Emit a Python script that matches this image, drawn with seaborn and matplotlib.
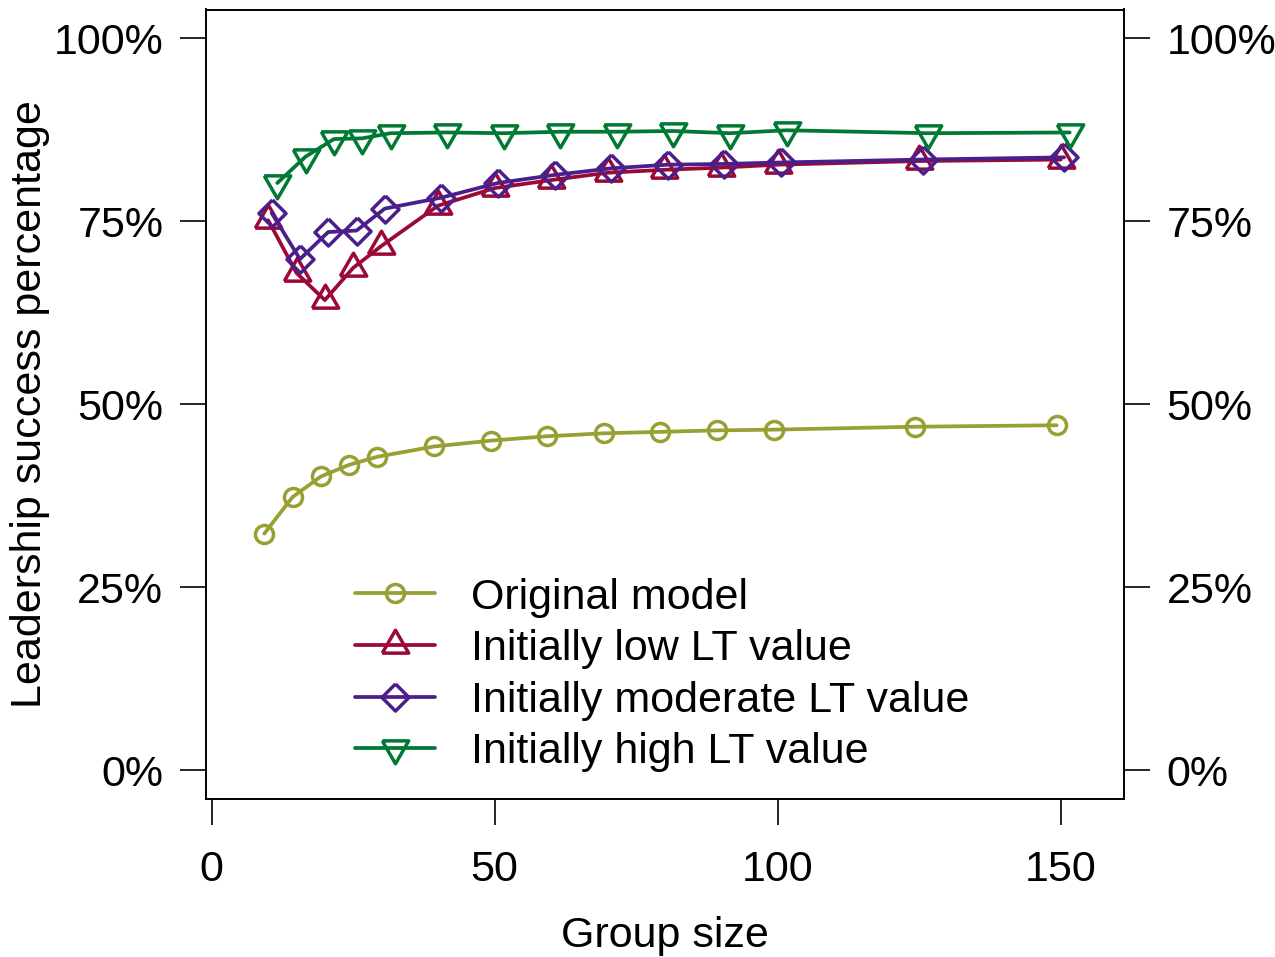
import numpy as np
import pandas as pd
import matplotlib
matplotlib.use("Agg")
import matplotlib.pyplot as plt
import seaborn as sns

# group sizes and the small horizontal dodge used for each series
group_size = [10, 15, 20, 25, 30, 40, 50, 60, 70, 80, 90, 100, 125, 150]
series_names = ["Original model", "Initially low LT value",
                "Initially moderate LT value", "Initially high LT value"]
dodge = [-0.7, 0.0, 0.6, 1.6]

# leadership success percentage
original = [32.3, 37.3, 40.1, 41.7, 42.8, 44.2, 45.0, 45.6, 46.0, 46.2, 46.4, 46.5, 46.9, 47.1]
low_lt = [75.1, 67.9, 64.2, 68.6, 71.6, 77.1, 79.5, 80.6, 81.6, 82.0, 82.3, 82.7, 83.2, 83.4]
moderate_lt = [76.1, 69.8, 73.5, 73.7, 76.7, 78.2, 80.2, 81.3, 82.2, 82.7, 82.8, 83.0, 83.4, 83.7]
high_lt = [80.2, 83.8, 86.2, 86.3, 87.0, 87.1, 87.0, 87.2, 87.2, 87.3, 87.0, 87.4, 87.0, 87.1]

y_ticks = [0, 25, 50, 75, 100]
y_tick_labels = ["0%", "25%", "50%", "75%", "100%"]
x_ticks = [0, 50, 100, 150]

colors = ["#98A034", "#9B0A37", "#4B1E8C", "#007A33"]

# R style open markers
tri_up = [(-1, -0.577), (1, -0.577), (0, 1.155), (-1, -0.577)]
tri_down = [(-1, 0.577), (1, 0.577), (0, -1.155), (-1, 0.577)]
diamond = [(0, 1), (1, 0), (0, -1), (-1, 0), (0, 1)]
markers = ["o", tri_up, diamond, tri_down]
marker_sizes = [13, 22, 19.5, 22]

sns.set_style("white")
plt.rcParams['font.family'] = ['Liberation Sans', 'DejaVu Sans']
plt.rcParams['text.color'] = 'black'
plt.rcParams['axes.labelcolor'] = 'black'

fig = plt.figure(figsize=(12.75, 9.57), dpi=100)
ax = fig.add_axes([206 / 1275, 1 - 799 / 957, 918 / 1275, 789.5 / 957])

all_values = [original, low_lt, moderate_lt, high_lt]
for name, vals, off, c, m, ms in zip(series_names, all_values, dodge, colors, markers, marker_sizes):
    df = pd.DataFrame({"x": np.array(group_size) + off, "y": vals})
    sns.lineplot(data=df, x="x", y="y", ax=ax, color=c, linewidth=2.7,
                 marker=m, markersize=ms, markerfacecolor="none",
                 markeredgecolor=c, markeredgewidth=2.5, label=name)

ax.set_xlim(-1.0, 161.2)
ax.set_ylim(-3.96, 103.9)
ax.set_xticks(x_ticks)
ax.set_xticklabels([str(t) for t in x_ticks])
ax.set_yticks(y_ticks)
ax.set_yticklabels(y_tick_labels)

for s in ax.spines.values():
    s.set_visible(True)
    s.set_color("black")
    s.set_linewidth(1.4)

ax.tick_params(axis="both", direction="out", length=18.7, width=1.2,
               color="black", labelsize=31, labelcolor="black")
ax.tick_params(axis="y", left=True, right=True, labelleft=True, labelright=True, pad=12)
ax.tick_params(axis="x", bottom=True, pad=18)

ax.set_xlabel("Group size", fontsize=31, color="black")
ax.set_ylabel("Leadership success percentage", fontsize=31, color="black")
ax.xaxis.set_label_coords(0.5, (799 - 947) / 789.5)
ax.xaxis.label.set_va("baseline")
ax.yaxis.set_label_coords((30 - 206) / 918, 0.5)
ax.yaxis.label.set_va("center")

leg = ax.legend(loc="center left", bbox_to_anchor=(355 / 1275, 1 - 675 / 957),
                bbox_transform=fig.transFigure, frameon=False, fontsize=31,
                handlelength=1.85, handletextpad=0.85, labelspacing=0.27,
                borderpad=0, borderaxespad=0)
for t in leg.get_texts():
    t.set_color("black")

fig.savefig("out.png", dpi=100)
